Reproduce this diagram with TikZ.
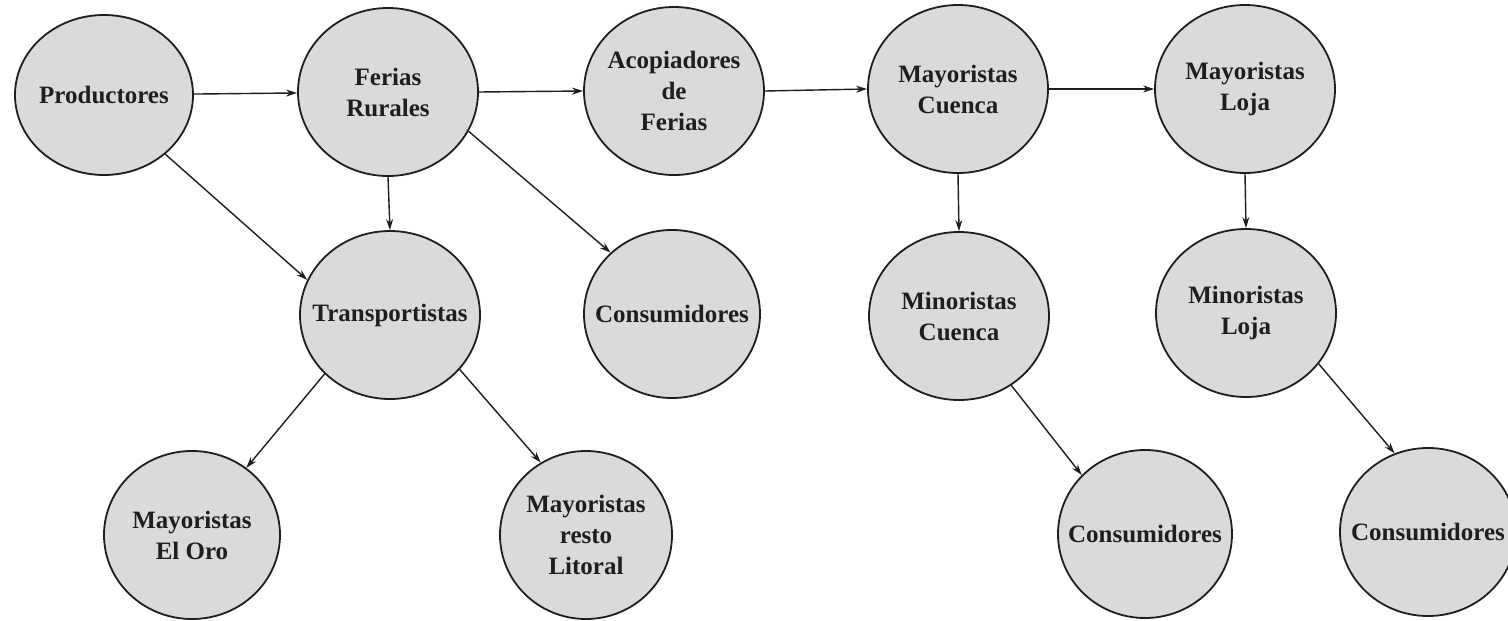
\documentclass[tikz,border=0pt]{standalone}
\usepackage{fontspec}
\setmainfont{Liberation Serif}
\usetikzlibrary{shapes.geometric,arrows.meta}
\definecolor{nodefill}{RGB}{218,218,218}
\definecolor{inkc}{RGB}{30,30,30}
\tikzset{
  actor/.style={ellipse, draw=inkc, line width=1.8pt, fill=nodefill,
    minimum width=180pt, minimum height=168pt, inner xsep=-30pt, inner ysep=0pt,
    align=center, font=\bfseries\fontsize{25}{31}\selectfont, text=inkc},
  flow/.style={draw=inkc, line width=1.4pt, -{Stealth[length=11pt,width=7pt]}}
}
\begin{document}
\begin{tikzpicture}[x=1pt,y=-1pt]
\useasboundingbox (0,0) rectangle (1508,621);
\fill[white] (0,0) rectangle (1508,621);
\node[actor, minimum width=178pt, minimum height=160pt] (prod) at (104,95) {Productores};
\node[actor] (ferias) at (388,92) {Ferias\\Rurales};
\node[actor] (acop) at (674,91) {Acopiadores\\de\\Ferias};
\node[actor] (mcue) at (958,89) {Mayoristas\\Cuenca};
\node[actor] (mloja) at (1245,89) {Mayoristas\\Loja};
\node[actor] (trans) at (390,315) {Transportistas};
\node[actor, minimum width=176pt] (consa) at (672,314) {Consumidores};
\node[actor] (mincue) at (959,316) {Minoristas\\Cuenca};
\node[actor] (minloja) at (1246,313) {Minoristas\\Loja};
\node[actor, minimum width=176pt] (oro) at (192,535) {Mayoristas\\El Oro};
\node[actor, minimum width=172pt] (litoral) at (586,535) {Mayoristas\\resto\\Litoral};
\node[actor, minimum width=174pt] (consb) at (1145,534) {Consumidores};
\node[actor, minimum width=176pt] (consc) at (1428,532) {Consumidores};

\draw[flow] (prod) -- (ferias);
\draw[flow] (ferias.east) -- (acop.west);
\draw[flow] (acop.east) -- (mcue.west);
\draw[flow] (mcue.east) -- (mloja.west);
\draw[flow] (prod.-44) -- (trans.157);
\draw[flow] (ferias.south) -- (trans.north);
\draw[flow] (ferias.-26) -- (consa.135);
\draw[flow] (trans.-138) -- (oro.51);
\draw[flow] (trans.-38) -- (litoral.122);
\draw[flow] (mcue.south) -- (mincue.north);
\draw[flow] (mloja.south) -- (minloja.north);
\draw[flow] (mincue.-53) -- (consb.137);
\draw[flow] (minloja.-35) -- (consc.113);
\end{tikzpicture}
\end{document}
